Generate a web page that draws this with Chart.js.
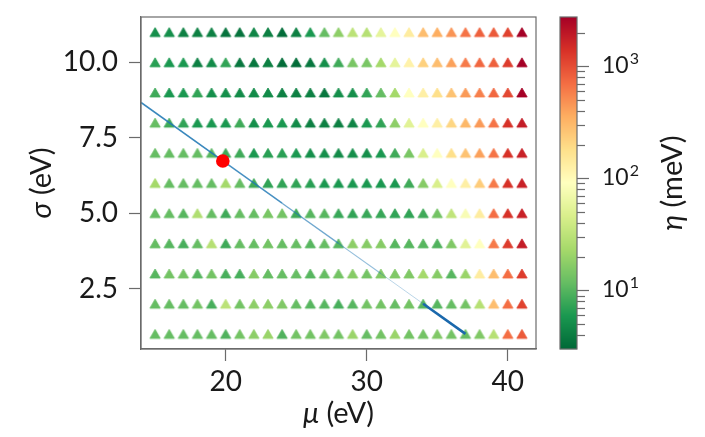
<!DOCTYPE html>
<html>
<head>
<meta charset="utf-8">
<script src="https://cdn.jsdelivr.net/npm/chart.js@4.4.1/dist/chart.umd.min.js"></script>
<style>
  body { margin: 0; background: #fff; }
  #box { width: 705px; height: 437px; }
</style>
</head>
<body>
<div id="box"><canvas id="etaChart" width="705" height="437"></canvas></div>
<script>
// grid of runs
const mu = [15, 16, 17, 18, 19, 20, 21, 22, 23, 24, 25, 26, 27, 28, 29, 30, 31, 32, 33, 34, 35, 36, 37, 38, 39, 40, 41];
const sigma = [1, 2, 3, 4, 5, 6, 7, 8, 9, 10, 11];

// eta (meV), one row per sigma, from sigma = 1 up to sigma = 11
const eta = [
  [11.7, 11.7, 11.7, 11.7, 11.7, 9.6, 13.5, 17.8, 20.4, 9.6, 13.5, 13.5, 15.5, 13.5, 20.4, 11.7, 13.5, 20.4, 13.5, 13.5, 15.5, 13.5, 11.7, 15.5, 28.6, 700, 865],
  [11.7, 11.7, 11.7, 13.5, 9.0, 30.6, 13.5, 17.8, 17.8, 15.5, 11.7, 10.3, 10.3, 9.0, 10.3, 13.5, 13.5, 11.7, 13.5, 10.3, 10.3, 11.7, 13.5, 28.6, 290, 700, 1135],
  [10.3, 13.5, 13.5, 10.3, 13.5, 9.0, 9.0, 16.5, 11.7, 11.7, 11.7, 10.3, 11.7, 13.5, 16.5, 13.5, 15.5, 15.5, 15.5, 23, 16.5, 10.3, 20.4, 137, 290, 700, 1215],
  [11.7, 10.3, 9.0, 11.7, 28.6, 8.3, 11.7, 11.7, 13.5, 11.7, 11.7, 10.3, 11.7, 10.3, 17.8, 16.5, 16.5, 10.3, 10.3, 10.3, 9.6, 15.5, 53, 91, 615, 1215, 1830],
  [11.7, 11.7, 10.3, 26.7, 11.7, 8.3, 11.7, 11.7, 14.5, 13.5, 8.3, 10.3, 10.3, 7.8, 7.3, 7.8, 7.8, 7.3, 7.3, 8.3, 13.5, 33, 80, 137, 700, 1380, 1710],
  [23, 11.7, 11.7, 11.7, 11.7, 23, 11.7, 8.3, 7.3, 7.3, 7.3, 6.8, 5.9, 5.9, 5.9, 5.9, 5.9, 5.9, 8.3, 16.5, 46, 91, 128, 237, 615, 1380, 1710],
  [11.7, 11.7, 11.7, 11.7, 10.3, 8.3, 8.3, 5.9, 6.8, 6.8, 5.9, 5.2, 5.2, 4.9, 5.2, 5.2, 5.9, 8.3, 14.5, 46, 91, 180, 270, 409, 658, 1380, 1710],
  [11.7, 8.3, 7.3, 5.9, 5.9, 5.9, 8.3, 5.2, 5.9, 5.9, 4.9, 4.2, 4.2, 4.2, 4.5, 5.9, 7.3, 17.8, 53, 91, 128, 205, 311, 440, 658, 1380, 1830],
  [8.3, 5.9, 5.9, 7.3, 5.2, 5.2, 4.9, 4.9, 4.9, 4.2, 4.2, 4.2, 3.7, 5.2, 5.2, 7.3, 11.7, 23, 91, 128, 180, 270, 440, 575, 755, 1060, 2750],
  [6.8, 5.9, 5.9, 4.2, 4.9, 7.3, 3.7, 3.7, 4.2, 3.2, 3.2, 3.7, 5.2, 8.3, 14.5, 14.5, 23, 57, 120, 221, 290, 409, 615, 755, 807, 1215, 2750],
  [5.2, 5.2, 4.2, 4.2, 4.2, 3.5, 3.5, 4.5, 4.2, 3.2, 4.2, 5.9, 11.7, 17.8, 30.6, 28.6, 57, 91, 137, 290, 355, 468, 658, 807, 865, 1135, 2750]
];

// fitted line and the chosen point
const fitMu = [14, 20, 24, 28, 31, 34, 37];
const fitSigma = [8.67, 6.67, 5.33, 4.0, 3.0, 2.0, 1.0];
const bestMu = [19.8];
const bestSigma = [6.73];

// colour scale limits and colourbar ticks
const etaMin = 3.0;
const etaMax = 2750;
const cbMajor = [10, 100, 1000];
const cbMinor = [4, 5, 6, 7, 8, 9, 20, 30, 40, 50, 60, 70, 80, 90, 200, 300, 400, 500, 600, 700, 800, 900, 2000];

const FONT = 'Lato, "DejaVu Sans", sans-serif';
const INK = '#1a1a1a';
const AXIS = '#6b6b6b';

// RdYlGn reversed
const stops = ['#006837', '#1a9850', '#66bd63', '#a6d96a', '#d9ef8b', '#ffffbf', '#fee08b', '#fdae61', '#f46d43', '#d73027', '#a50026']
  .map(h => [parseInt(h.slice(1, 3), 16), parseInt(h.slice(3, 5), 16), parseInt(h.slice(5, 7), 16)]);

const cmap = t => {
  t = Math.min(1, Math.max(0, t));
  const s = t * (stops.length - 1);
  const i = Math.min(stops.length - 2, Math.floor(s));
  const f = s - i;
  const c = stops[i].map((v, k) => Math.round(v + (stops[i + 1][k] - v) * f));
  return `rgb(${c[0]},${c[1]},${c[2]})`;
};
const lnorm = v => (Math.log10(v) - Math.log10(etaMin)) / (Math.log10(etaMax) - Math.log10(etaMin));
const etaColor = v => cmap(lnorm(v));

// matplotlib-like '^' marker, centred on its box (cached per colour)
const triCache = {};
const triMarker = col => {
  if (triCache[col]) return triCache[col];
  const cv = document.createElement('canvas');
  cv.width = 14; cv.height = 13;
  const g = cv.getContext('2d');
  g.fillStyle = col; g.strokeStyle = col;
  g.lineWidth = 0.8; g.lineJoin = 'round';
  g.beginPath();
  g.moveTo(7, 2); g.lineTo(12.2, 11); g.lineTo(1.8, 11);
  g.closePath(); g.fill(); g.stroke();
  triCache[col] = cv;
  return cv;
};

const gridPts = [];
sigma.forEach((s, r) => mu.forEach((m, c) => gridPts.push({ x: m, y: s, e: eta[r][c] })));

const fitPts = fitMu.map((m, i) => ({ x: m, y: fitSigma[i] }));
const bestPts = bestMu.map((m, i) => ({ x: m, y: bestSigma[i] }));

const segWidth = [1.6, 1.5, 1.3, 1.1, 0.9, 2.6];
const segColor = ['rgba(31,119,180,0.88)', 'rgba(31,119,180,0.82)', 'rgba(31,119,180,0.64)',
  'rgba(31,119,180,0.48)', 'rgba(31,119,180,0.34)', 'rgba(26,104,172,1)'];

// italic symbol + upright unit, used for the three axis titles
const mathLabel = (ctx, sym, rest, size) => {
  ctx.font = `italic ${size}px ${FONT}`;
  const w1 = ctx.measureText(sym).width;
  ctx.font = `${size}px ${FONT}`;
  const w2 = ctx.measureText(rest).width;
  const x = -(w1 + w2) / 2;
  ctx.textAlign = 'left';
  ctx.font = `italic ${size}px ${FONT}`;
  ctx.fillText(sym, x, 0);
  ctx.font = `${size}px ${FONT}`;
  ctx.fillText(rest, x + w1, 0);
};

// frame + colourbar + titles drawn after the chart
const extras = {
  id: 'extras',
  afterDraw(chart) {
    const { ctx, chartArea: a } = chart;
    ctx.save();
    ctx.strokeStyle = AXIS;
    ctx.lineWidth = 1.2;
    ctx.strokeRect(a.left, a.top, a.right - a.left, a.bottom - a.top);

    const x0 = 560, x1 = 577;
    const top = a.top, bot = a.bottom;
    const h = bot - top;
    for (let yy = 0; yy < h; yy++) {
      ctx.fillStyle = cmap(1 - (yy + 0.5) / h);
      ctx.fillRect(x0, top + yy, x1 - x0, 1.2);
    }
    ctx.strokeRect(x0, top, x1 - x0, h);

    const lo = Math.log10(etaMin), hi = Math.log10(etaMax);
    const yOf = v => bot - (Math.log10(v) - lo) / (hi - lo) * h;
    ctx.lineWidth = 1.2;
    cbMinor.forEach(v => {
      const y = Math.round(yOf(v)) + 0.5;
      ctx.beginPath(); ctx.moveTo(x1, y); ctx.lineTo(x1 + 8, y); ctx.stroke();
    });
    cbMajor.forEach(v => {
      const y = Math.round(yOf(v)) + 0.5;
      ctx.beginPath(); ctx.moveTo(x1, y); ctx.lineTo(x1 + 12, y); ctx.stroke();
      ctx.fillStyle = INK;
      ctx.textBaseline = 'alphabetic';
      ctx.textAlign = 'left';
      ctx.font = `23px ${FONT}`;
      ctx.fillText('10', 602, y + 6);
      const w = ctx.measureText('10').width;
      ctx.font = `16px ${FONT}`;
      ctx.fillText(String(Math.round(Math.log10(v))), 603 + w, y - 3);
    });

    ctx.fillStyle = INK;
    ctx.textBaseline = 'middle';

    ctx.save();
    ctx.translate(673, (top + bot) / 2);
    ctx.rotate(-Math.PI / 2);
    mathLabel(ctx, 'η', ' (meV)', 29);
    ctx.restore();

    ctx.save();
    ctx.translate(42, (top + bot) / 2);
    ctx.rotate(-Math.PI / 2);
    mathLabel(ctx, 'σ', ' (eV)', 29);
    ctx.restore();

    ctx.save();
    ctx.translate((a.left + a.right) / 2, 414);
    mathLabel(ctx, 'μ', ' (eV)', 29);
    ctx.restore();

    ctx.restore();
  }
};

const axisCommon = {
  type: 'linear',
  grid: { drawOnChartArea: false, tickLength: 12, tickColor: AXIS, tickWidth: 1.2 },
  border: { color: AXIS, width: 1.2 },
};

new Chart(document.getElementById('etaChart'), {
  type: 'scatter',
  data: {
    datasets: [
      {
        label: 'best',
        data: bestPts,
        order: 0,
        pointStyle: 'circle',
        pointRadius: 6.8,
        pointBackgroundColor: '#ff0000',
        pointBorderWidth: 0,
      },
      {
        label: 'fit',
        type: 'line',
        data: fitPts,
        order: 1,
        showLine: true,
        pointRadius: 0,
        borderColor: segColor[0],
        borderWidth: segWidth[0],
        segment: {
          borderColor: c => segColor[c.p0DataIndex],
          borderWidth: c => segWidth[c.p0DataIndex],
        },
      },
      {
        label: 'eta',
        data: gridPts,
        order: 2,
        pointRadius: 6,
        pointStyle: c => c.raw ? triMarker(etaColor(c.raw.e)) : 'triangle',
      },
    ]
  },
  options: {
    responsive: false,
    animation: false,
    events: [],
    layout: { padding: { top: 17, right: 169, left: 0, bottom: 0 } },
    plugins: { legend: { display: false }, tooltip: { enabled: false } },
    scales: {
      x: {
        ...axisCommon,
        min: 14, max: 42,
        afterFit: s => { s.height = 88; s.paddingLeft = 0; s.paddingRight = 0; },
        ticks: { stepSize: 10, includeBounds: false, color: INK, padding: 4, font: { family: FONT, size: 28 } },
      },
      y: {
        ...axisCommon,
        min: 0.5, max: 11.5,
        afterFit: s => { s.width = 141; s.paddingTop = 0; s.paddingBottom = 0; },
        ticks: { stepSize: 2.5, includeBounds: false, color: INK, padding: 11, font: { family: FONT, size: 28 },
          callback: v => v.toFixed(1) },
      }
    }
  },
  plugins: [extras]
});
</script>
</body>
</html>
